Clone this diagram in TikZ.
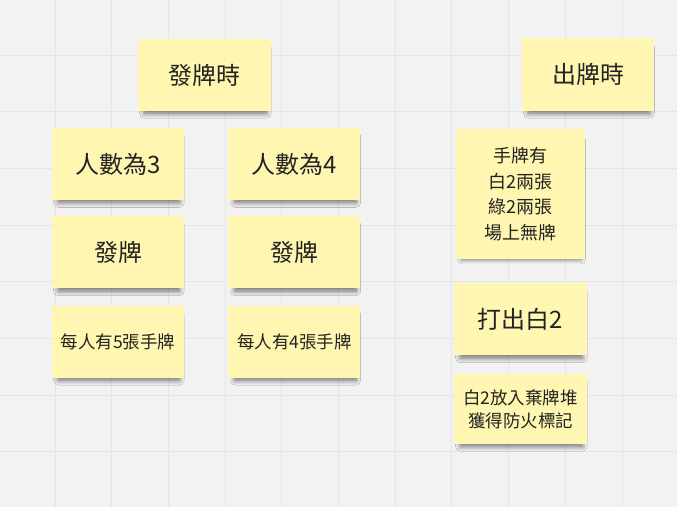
\documentclass[tikz,border=0pt]{standalone}
\usepackage{fontspec}
\usepackage{xcolor}
\usetikzlibrary{positioning,shadows.blur}
\newfontfamily\cjk{Noto Sans CJK TC}

\definecolor{board}{HTML}{F2F2F2}
\definecolor{gridline}{HTML}{E5E5E5}
\definecolor{sticky}{HTML}{FFF7B1}
\definecolor{ink}{HTML}{222222}

\tikzset{
  note/.style={fill=sticky, text=ink, inner sep=0pt, align=center,
               minimum width=132pt, minimum height=72pt,
               blur shadow={shadow xshift=1pt, shadow yshift=-6pt,
                            shadow scale=0.92, shadow blur radius=5pt,
                            shadow blur steps=12, shadow opacity=55}},
  big/.style={font=\cjk\fontsize{24pt}{28pt}\selectfont},
  small/.style={font=\cjk\fontsize{17.5pt}{23pt}\selectfont},
}

\begin{document}
\begin{tikzpicture}[x=1pt, y=-1pt]
  % board and grid
  \fill[board] (0,0) rectangle (677,507);
  \useasboundingbox (0,0) rectangle (677,507);
  \foreach \k in {0,...,11} {
    \draw[gridline, line width=1pt] (55+\k*56.7,0) -- (55+\k*56.7,507);
  }
  \foreach \k in {0,...,8} {
    \draw[gridline, line width=1pt] (0,55+\k*56.7) -- (677,55+\k*56.7);
  }

  % dealing
  \node[note,big,minimum width=133pt] (Deal) at (204.5,75)  {發牌時};
  \node[note,big]   (N3) at (118,164)              {人數為3};
  \node[note,big]   (N4) [right=44pt of N3]        {人數為4};
  \node[note,big]   (D3) [below=16pt of N3]        {發牌};
  \node[note,big]   (D4) [below=16pt of N4]        {發牌};
  \node[note,small] (H5) [below=17pt of D3]        {每人有5張手牌};
  \node[note,small] (H4) [below=17pt of D4]        {每人有4張手牌};

  % playing
  \node[note,big,minimum height=73pt] (Play) at (588,74.5) {出牌時};
  \node[note,minimum width=129pt,minimum height=130pt,
        font=\cjk\fontsize{18pt}{25.5pt}\selectfont]
        (Hand) at (520.5,194) {手牌有\\白2兩張\\綠2兩張\\場上無牌};
  \node[note,big,minimum width=133pt] (Out) [below=24pt of Hand] {打出白2};
  \node[note,small,minimum width=133pt,minimum height=70pt]
        (Res) [below=18pt of Out] {白2放入棄牌堆\\獲得防火標記};
\end{tikzpicture}
\end{document}
